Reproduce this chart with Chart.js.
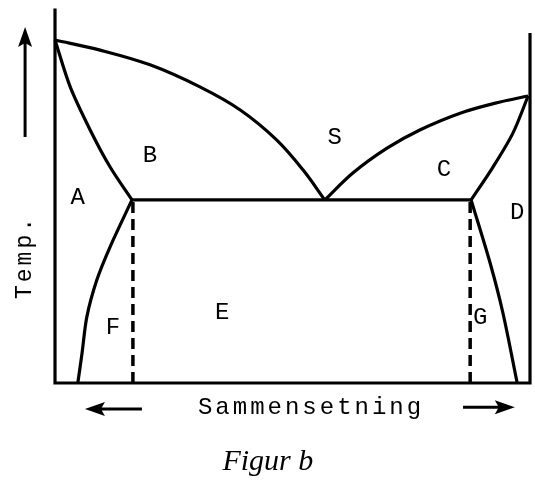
<!DOCTYPE html>
<html lang="no">
<head>
    <meta charset="UTF-8">
    <title>Figur b</title>
    <script src="https://cdn.jsdelivr.net/npm/chart.js@4.4.0/dist/chart.umd.min.js"></script>
    <style>
        body { margin: 0; background: #fff; }
        canvas { display: block; }
    </style>
</head>
<body>
    <canvas id="Chart" width="535" height="484"></canvas>

    <script>
        // composition (0-100) and temperature (0-100)
        var liquidusLeftX = [0, 9.5, 20, 30.5, 39, 46.7, 52.2, 56.8];
        var liquidusLeftY = [98, 95.1, 90.9, 84.6, 78, 69.4, 60.9, 52.3];
        var liquidusRightX = [56.8, 62.7, 69.9, 76.8, 85.3, 93.7, 99.6];
        var liquidusRightY = [52.3, 60, 67.1, 72.3, 77.1, 80.3, 82];
        var solidusLeftX = [0, 3.2, 7.4, 11.6, 16.2];
        var solidusLeftY = [98, 84.6, 72.3, 61.7, 52.3];
        var solidusRightX = [87.6, 92.2, 96.4, 99.6];
        var solidusRightY = [52.3, 61.7, 71.4, 82];
        var solvusLeftX = [16.2, 11.6, 8.8, 6.7, 5.7, 4.8];
        var solvusLeftY = [52.3, 38.9, 29.4, 18.9, 8.6, 0];
        var solvusRightX = [87.6, 91.6, 94.3, 97.3];
        var solvusRightY = [52.3, 34.3, 20, 0];
        var eutecticX = [16.2, 87.6];
        var eutecticY = [52.3, 52.3];
        var dashLeftX = [16.4, 16.4];
        var dashRightX = [87.4, 87.4];
        var dashY = [0, 52.3];
        var frameX = [0, 0, 100, 100];
        var frameY = [107, 0, 0, 100];

        var regionNames = ["A", "B", "S", "C", "D", "F", "E", "G"];
        var regionX = [4.8, 20, 58.9, 81.9, 97.3, 12.2, 35.2, 89.5];
        var regionY = [53.1, 65.1, 70, 60.9, 48.6, 15.7, 20, 18.6];

        var xTitle = "Sammensetning";
        var yTitle = "Temp.";
        var caption = "Figur b";

        function pts(xs, ys) {
            return xs.map(function (x, i) { return { x: x, y: ys[i] }; });
        }

        function line(xs, ys, dashed, tension) {
            return {
                data: pts(xs, ys),
                showLine: true,
                borderColor: "#000",
                borderWidth: dashed ? 3.5 : 3.2,
                borderDash: dashed ? [11, 6] : [],
                tension: tension || 0,
                pointRadius: 0,
                fill: false
            };
        }

        function arrow(ctx, x1, y1, x2, y2) {
            var a = Math.atan2(y2 - y1, x2 - x1);
            ctx.beginPath();
            ctx.moveTo(x1, y1);
            ctx.lineTo(x2 - 12 * Math.cos(a), y2 - 12 * Math.sin(a));
            ctx.lineWidth = 3;
            ctx.stroke();
            ctx.save();
            ctx.translate(x2, y2);
            ctx.rotate(a);
            ctx.beginPath();
            ctx.moveTo(0, 0);
            ctx.lineTo(-20, -7);
            ctx.lineTo(-16, 0);
            ctx.lineTo(-20, 7);
            ctx.closePath();
            ctx.fill();
            ctx.restore();
        }

        var sketchText = {
            id: "sketchText",
            afterDraw: function (chart) {
                var ctx = chart.ctx;
                var xs = chart.scales.x, ys = chart.scales.y;
                function px(v) { return xs.getPixelForValue(v); }
                function py(v) { return ys.getPixelForValue(v); }
                ctx.save();
                ctx.fillStyle = "#000";
                ctx.strokeStyle = "#000";
                ctx.textAlign = "center";
                ctx.textBaseline = "middle";

                ctx.font = "24px 'Liberation Mono', monospace";
                for (var i = 0; i < regionNames.length; i++) {
                    ctx.fillText(regionNames[i], px(regionX[i]), py(regionY[i]));
                }

                ctx.font = "24px 'Liberation Mono', monospace";
                ctx.letterSpacing = "3px";
                ctx.fillText(xTitle, px(53.9), py(-7.1));

                ctx.save();
                ctx.font = "23px 'Liberation Mono', monospace";
                ctx.letterSpacing = "3px";
                ctx.translate(px(-6.3), py(36));
                ctx.rotate(-Math.PI / 2);
                ctx.fillText(yTitle, 0, 0);
                ctx.restore();

                ctx.letterSpacing = "0px";
                ctx.font = "italic 30px 'Liberation Serif', serif";
                ctx.fillText(caption, px(44.8), py(-22.6));

                // direction arrows
                arrow(ctx, px(-6.3), py(70.3), px(-6.3), py(101.7));
                arrow(ctx, px(18.3), py(-7.4), px(6.3), py(-7.4));
                arrow(ctx, px(85.9), py(-6.9), px(96.8), py(-6.9));
                ctx.restore();
            }
        };

        new Chart(document.getElementById("Chart"), {
            type: "scatter",
            data: {
                datasets: [
                    line(frameX, frameY, false, 0),
                    line(liquidusLeftX, liquidusLeftY, false, 0.35),
                    line(liquidusRightX, liquidusRightY, false, 0.35),
                    line(solidusLeftX, solidusLeftY, false, 0.3),
                    line(solidusRightX, solidusRightY, false, 0.3),
                    line(solvusLeftX, solvusLeftY, false, 0.3),
                    line(solvusRightX, solvusRightY, false, 0.3),
                    line(eutecticX, eutecticY, false, 0),
                    line(dashLeftX, dashY, true, 0),
                    line(dashRightX, dashY, true, 0)
                ]
            },
            options: {
                responsive: false,
                animation: false,
                layout: { padding: 0 },
                plugins: { legend: { display: false }, tooltip: { enabled: false } },
                scales: {
                    x: { type: "linear", display: false, min: -11.58, max: 101.05 },
                    y: { type: "linear", display: false, min: -28.86, max: 109.43 }
                }
            },
            plugins: [sketchText]
        });
    </script>
</body>
</html>
